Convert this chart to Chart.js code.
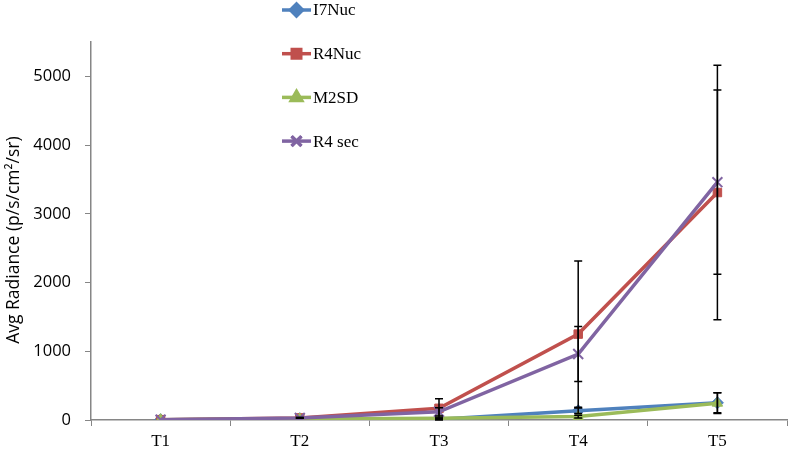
<!DOCTYPE html>
<html>
<head>
<meta charset="utf-8">
<script src="https://cdn.jsdelivr.net/npm/chart.js@4"></script>
<style>
  html, body { margin: 0; padding: 0; background: #fff; }
  #wrap { width: 788px; height: 456px; }
</style>
</head>
<body>
<div id="wrap"><canvas id="myChart" width="788" height="456"></canvas></div>
<script>
var categories = ['T1', 'T2', 'T3', 'T4', 'T5'];
var seriesNames = ['I7Nuc', 'R4Nuc', 'M2SD', 'R4 sec'];
var i7Nuc = [5, 20, 10, 135, 250];
var r4Nuc = [5, 30, 170, 1250, 3310];
var m2SD = [5, 15, 25, 50, 245];
var r4Sec = [5, 30, 120, 960, 3460];
var i7NucErr = [0, 0, 10, 40, 145];
var r4NucErr = [0, 5, 140, 1065, 1850];
var m2SDErr = [0, 0, 5, 20, 150];
var r4SecErr = [0, 5, 60, 400, 1340];
var yTicks = [0, 1000, 2000, 3000, 4000, 5000];

var colors = ['#4F81BD', '#C0504D', '#9BBB59', '#8064A2'];
var markers = ['rectRot', 'rect', 'triangle', 'crossRot'];
var values = [i7Nuc, r4Nuc, m2SD, r4Sec];
var errors = [i7NucErr, r4NucErr, m2SDErr, r4SecErr];

var datasets = seriesNames.map(function (name, i) {
    return {
        label: name,
        data: values[i],
        errors: errors[i],
        order: seriesNames.length - i, // later series drawn on top, as in the original
        borderColor: colors[i],
        backgroundColor: colors[i],
        borderWidth: 3.5,
        pointStyle: markers[i],
        pointRadius: markers[i] === 'crossRot' ? 7 : 6,
        pointBorderWidth: markers[i] === 'crossRot' ? 2 : 1,
        tension: 0,
        fill: false
    };
});

// error bars, drawn with the chart's own scales
var errorBars = {
    id: 'errorBars',
    afterDatasetsDraw: function (chart) {
        var ctx = chart.ctx;
        var y = chart.scales.y;
        ctx.save();
        ctx.strokeStyle = '#000';
        ctx.lineWidth = 1.5;
        chart.data.datasets.forEach(function (ds, i) {
            var meta = chart.getDatasetMeta(i);
            meta.data.forEach(function (pt, j) {
                var e = ds.errors[j];
                if (!e) return;
                var top = y.getPixelForValue(ds.data[j] + e);
                var bot = y.getPixelForValue(ds.data[j] - e);
                ctx.beginPath();
                ctx.moveTo(pt.x, top); ctx.lineTo(pt.x, bot);
                ctx.moveTo(pt.x - 4, top); ctx.lineTo(pt.x + 4, top);
                ctx.moveTo(pt.x - 4, bot); ctx.lineTo(pt.x + 4, bot);
                ctx.stroke();
            });
        });
        ctx.restore();
    }
};

// vertical legend placed inside the plot, like the original
var insideLegend = {
    id: 'insideLegend',
    afterDraw: function (chart) {
        var ctx = chart.ctx;
        ctx.save();
        chart.data.datasets.forEach(function (ds, i) {
            var yy = 10 + i * 43.7;
            ctx.strokeStyle = ds.borderColor;
            ctx.lineWidth = 3.5;
            ctx.beginPath();
            ctx.moveTo(282, yy); ctx.lineTo(311, yy);
            ctx.stroke();
            Chart.helpers.drawPoint(ctx, {
                pointStyle: ds.pointStyle,
                radius: ds.pointRadius,
                borderWidth: ds.pointBorderWidth,
                rotation: 0
            }, 296.5, yy);
            ctx.fillStyle = ds.borderColor;
            ctx.strokeStyle = ds.borderColor;
            ctx.lineWidth = ds.pointBorderWidth;
            ctx.fill();
            ctx.stroke();
            ctx.fillStyle = '#000';
            ctx.font = '17px "Liberation Serif"';
            ctx.textBaseline = 'middle';
            ctx.fillText(ds.label, 313, yy + 1);
        });
        ctx.restore();
    }
};

var ctx = document.getElementById('myChart').getContext('2d');
var myChart = new Chart(ctx, {
    type: 'line',
    data: { labels: categories, datasets: datasets },
    options: {
        responsive: false,
        animation: false,
        layout: { autoPadding: false, padding: { top: 42, right: 1, left: 4, bottom: 0 } },
        scales: {
            x: {
                offset: true,
                grid: {
                    offset: true,
                    drawOnChartArea: false,
                    drawTicks: true,
                    tickLength: 6,
                    color: '#868686'
                },
                border: { color: '#868686', width: 1.5 },
                ticks: {
                    color: '#000',
                    font: { family: 'Liberation Serif', size: 17 },
                    padding: 5
                },
                afterFit: function (s) {
                    s.height = 36;
                    s.paddingLeft = 0;
                    s.paddingRight = 0;
                }
            },
            y: {
                min: 0,
                max: 5500,
                afterBuildTicks: function (s) {
                    s.ticks = yTicks.map(function (v) { return { value: v }; });
                },
                grid: {
                    drawOnChartArea: false,
                    drawTicks: true,
                    tickLength: 6,
                    color: '#868686'
                },
                border: { color: '#868686', width: 1.5 },
                ticks: {
                    color: '#000',
                    font: { family: 'Open Sans', size: 16.5 },
                    padding: 14,
                    callback: function (v) { return String(v); }
                },
                title: {
                    display: true,
                    text: 'Avg Radiance (p/s/cm\u00b2/sr)    ',
                    color: '#000',
                    font: { family: 'Open Sans', size: 17.5 },
                    padding: 0
                },
                afterFit: function (s) { s.width = 87; }
            }
        },
        plugins: {
            legend: { display: false },
            tooltip: { enabled: false }
        }
    },
    plugins: [errorBars, insideLegend]
});
</script>
</body>
</html>
